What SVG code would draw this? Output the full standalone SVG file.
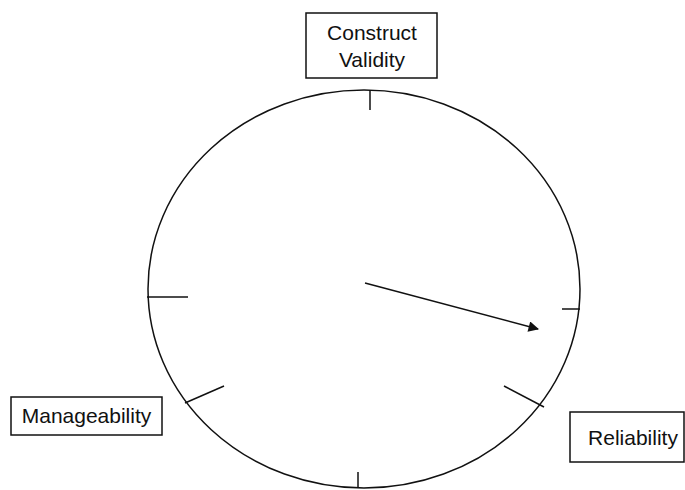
<svg xmlns="http://www.w3.org/2000/svg" width="685" height="490" viewBox="0 0 685 490">
  <style>
    .box { fill: #fff; stroke: #111; stroke-width: 1.5; }
    .lbl { font-family: "Liberation Sans", Arial, sans-serif; font-size: 21px; fill: #111; }
    .line { stroke: #111; stroke-width: 1.5; fill: none; }
  </style>
  <defs>
    <marker id="arrow" viewBox="0 0 10 10" refX="9" refY="5" markerWidth="8" markerHeight="7" markerUnits="strokeWidth" orient="auto">
      <path d="M0,0 L10,5 L0,10 Z" fill="#111"/>
    </marker>
  </defs>
  <rect width="685" height="490" fill="#fff"/>
  <g id="dial">
    <ellipse class="line" cx="364" cy="289" rx="216" ry="199"/>
  </g>
  <g id="connectors">
    <line class="line" x1="370" y1="90" x2="370" y2="110"/>
    <line class="line" x1="147" y1="297" x2="188" y2="297"/>
    <line class="line" x1="562" y1="309" x2="580" y2="309"/>
    <line class="line" x1="185" y1="403" x2="224" y2="386"/>
    <line class="line" x1="504" y1="386" x2="544" y2="407"/>
    <line class="line" x1="358" y1="472" x2="358" y2="488"/>
    <line class="line" x1="365" y1="283" x2="538" y2="329" marker-end="url(#arrow)"/>
  </g>
  <g id="construct-validity">
    <rect class="box" x="306" y="13" width="131" height="65"/>
    <text class="lbl" x="372" y="40" text-anchor="middle">Construct</text>
    <text class="lbl" x="372" y="67" text-anchor="middle">Validity</text>
  </g>
  <g id="manageability">
    <rect class="box" x="11" y="397" width="151" height="38"/>
    <text class="lbl" x="86.5" y="423" text-anchor="middle">Manageability</text>
  </g>
  <g id="reliability">
    <rect class="box" x="570" y="412" width="114" height="50"/>
    <text class="lbl" x="633" y="445" text-anchor="middle">Reliability</text>
  </g>
</svg>
